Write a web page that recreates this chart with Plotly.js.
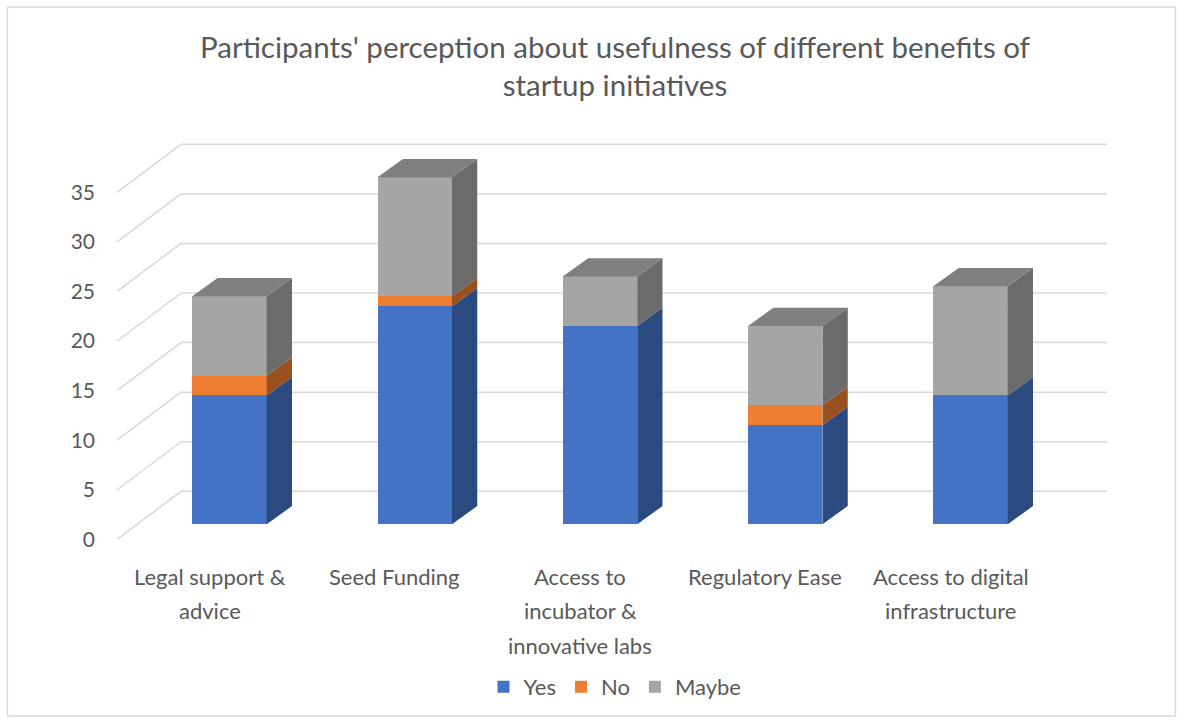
<!DOCTYPE html>
<html>
<head>
<meta charset="utf-8">
<script src="https://cdn.plot.ly/plotly-3.0.1.min.js"></script>
<style>
  html, body { margin: 0; padding: 0; background: #ffffff; }
  #chart { width: 1181px; height: 722px; }
</style>
</head>
<body>
<div id="chart"></div>
<script>
// ---------------- DATA ----------------
const categories = [
  "Legal support &<br>advice",
  "Seed Funding",
  "Access to<br>incubator &<br>innovative labs",
  "Regulatory Ease",
  "Access to digital<br>infrastructure"
];
const seriesNames = ["Yes", "No", "Maybe"];
const yesValues   = [13, 22, 20, 10, 13];
const noValues    = [2, 1, 0, 2, 0];
const maybeValues = [8, 12, 5, 8, 11];
const yTickValues = [0, 5, 10, 15, 20, 25, 30, 35];
const chartTitle = "Participants' perception about usefulness of different benefits of<br>startup initiatives";

// ---------------- STYLE ----------------
const frontColors = ["#4472C4", "#ED7D31", "#A5A5A5"];
const sideColors  = ["#2B4A80", "#98501E", "#6B6B6B"];
const topColors   = ["#36599A", "#B86226", "#7F7F7F"];
const textColor = "#595959";
const gridColor = "#D9D9D9";
const FONT = "Lato, 'Noto Sans', sans-serif";

// ---------------- GEOMETRY (pixels) ----------------
const W = 1181, H = 722;
const L = 100, R = 51, T = 130, B = 162;
const PW = W - L - R, PH = H - T - B;
const PXU_X = 185.25;          // px per category
const PXU_Y = 9.914;           // px per value unit
const firstCenterPx = 229.5;   // px of first category centre (bar front plane)
const zeroPx = 524.3;          // px of value 0 on bar front plane
const x0 = -(firstCenterPx - L) / PXU_X;
const x1 = x0 + PW / PXU_X;
const yr0 = -((T + PH) - zeroPx) / PXU_Y;
const yr1 = yr0 + PH / PXU_Y;
const px2x = px => x0 + (px - L) / PXU_X;
const dX = px => px / PXU_X;
const dY = px => px / PXU_Y;
const barW = 74.4 / PXU_X;
const depthDX = dX(25.3), depthDY = dY(18.3);
const frontOff = 15;    // label plane lies 15px below bar front plane
const backOff = 33;     // back wall lies 33px above
const slantFrontPx = 117, backLeftPx = 181, backRightPx = 1107;

const allSeries = [yesValues, noValues, maybeValues];
const xIdx = categories.map((c, i) => i);

// ---------------- TRACES ----------------
const traces = [];
// side faces (drawn before fronts)
allSeries.forEach((vals, s) => {
  const xs = [], ys = [];
  vals.forEach((v, i) => {
    if (v <= 0) return;
    let a = 0;
    for (let k = 0; k < s; k++) a += allSeries[k][i];
    const b = a + v;
    const xr = i + barW / 2;
    xs.push(xr, xr + depthDX, xr + depthDX, xr, xr, null);
    ys.push(a, a + depthDY, b + depthDY, b, a, null);
  });
  traces.push({
    type: "scatter", mode: "lines", x: xs, y: ys, fill: "toself",
    fillcolor: sideColors[s], line: { width: 0, color: sideColors[s] },
    hoverinfo: "skip", showlegend: false
  });
});
// top faces
allSeries.forEach((vals, s) => {
  const xs = [], ys = [];
  xIdx.forEach(i => {
    let topS = -1, total = 0;
    allSeries.forEach((sv, k) => { total += sv[i]; if (sv[i] > 0) topS = k; });
    if (topS !== s) return;
    const xl = i - barW / 2, xr = i + barW / 2;
    xs.push(xl, xl + depthDX, xr + depthDX, xr, xl, null);
    ys.push(total, total + depthDY, total + depthDY, total, total, null);
  });
  if (xs.length) traces.push({
    type: "scatter", mode: "lines", x: xs, y: ys, fill: "toself",
    fillcolor: topColors[s], line: { width: 0, color: topColors[s] },
    hoverinfo: "skip", showlegend: false
  });
});
// front faces
allSeries.forEach((vals, s) => {
  traces.push({
    type: "bar", name: seriesNames[s], x: xIdx, y: vals, width: barW,
    marker: { color: frontColors[s], line: { width: 0 } },
    hoverinfo: "skip"
  });
});

// ---------------- SHAPES (grid) ----------------
const shapes = [];
yTickValues.forEach(v => {
  shapes.push({
    type: "line", xref: "x", yref: "y", layer: "below",
    x0: px2x(backLeftPx), x1: px2x(backRightPx),
    y0: v + dY(backOff), y1: v + dY(backOff),
    line: { color: gridColor, width: 1.5 }
  });
  shapes.push({
    type: "line", xref: "x", yref: "y", layer: "below",
    x0: px2x(slantFrontPx), x1: px2x(backLeftPx),
    y0: v - dY(frontOff), y1: v + dY(backOff),
    line: { color: gridColor, width: 1.5 }
  });
});
// outer chart border
shapes.push({
  type: "rect", xref: "paper", yref: "paper", layer: "below",
  x0: (7.5 - L) / PW, x1: (1175.5 - L) / PW,
  y0: ((T + PH) - 716) / PH, y1: ((T + PH) - 7) / PH,
  line: { color: "#D9D9D9", width: 1.3 }, fillcolor: "rgba(0,0,0,0)"
});

// ---------------- CATEGORY LABELS ----------------
const annotations = [];
const labelFirstLinePx = 576, labelLineGap = 34.5;
categories.forEach((c, i) => {
  c.split("<br>").forEach((line, k) => {
    annotations.push({
      xref: "x", yref: "paper",
      x: i - dX(20),
      y: ((T + PH) - (labelFirstLinePx + k * labelLineGap)) / PH,
      yanchor: "middle", xanchor: "center",
      text: line, showarrow: false,
      font: { family: FONT, size: 22, color: textColor }
    });
  });
});

const layout = {
  width: W, height: H,
  margin: { l: L, r: R, t: T, b: B, pad: 0 },
  paper_bgcolor: "#ffffff", plot_bgcolor: "rgba(0,0,0,0)",
  barmode: "stack",
  title: {
    text: chartTitle,
    font: { family: FONT, size: 29.5, color: textColor },
    x: 0.5, xanchor: "center", xref: "paper",
    y: 1 - 58 / H, yanchor: "middle", yref: "container"
  },
  xaxis: {
    range: [x0, x1], showgrid: false, zeroline: false, showline: false,
    showticklabels: false, ticks: "", fixedrange: true
  },
  yaxis: {
    range: [yr0, yr1], showgrid: false, zeroline: false, showline: false,
    tickmode: "array",
    tickvals: yTickValues.map(v => v - dY(frontOff)),
    ticktext: yTickValues.map(v => String(v)),
    ticks: "", ticklabelstandoff: 4,
    tickfont: { family: FONT, size: 21, color: textColor },
    fixedrange: true
  },
  legend: {
    orientation: "h", x: 0.5, xanchor: "center",
    y: ((T + PH) - 687) / PH, yanchor: "middle",
    font: { family: FONT, size: 22, color: textColor },
    traceorder: "normal", bgcolor: "rgba(0,0,0,0)"
  },
  shapes: shapes,
  annotations: annotations,
  showlegend: true
};

Plotly.newPlot("chart", traces, layout, { displayModeBar: false, staticPlot: true });
</script>
</body>
</html>
